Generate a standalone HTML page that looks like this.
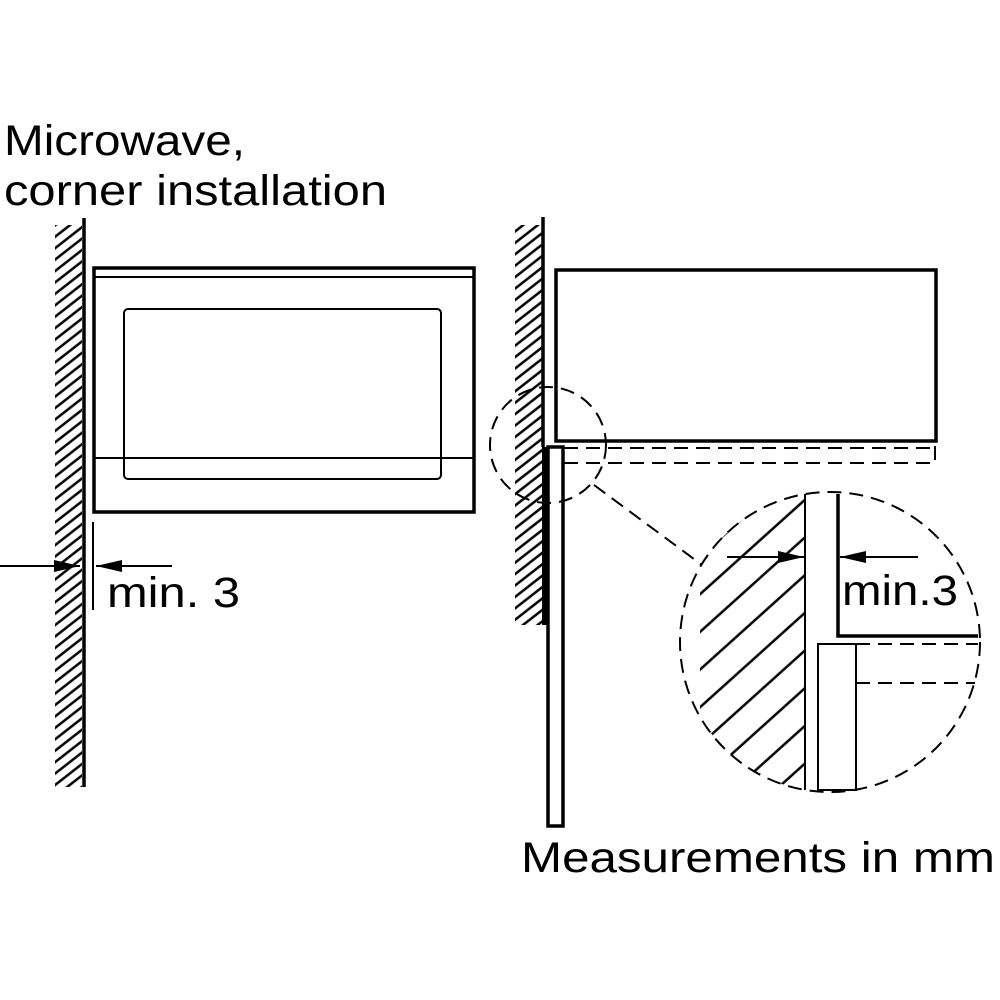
<!DOCTYPE html><html><head><style>body{margin:0;background:#fff}svg{display:block}</style></head><body>
<svg width="1000" height="1000" viewBox="0 0 1000 1000" xmlns="http://www.w3.org/2000/svg">
<defs>
<pattern id="h" patternUnits="userSpaceOnUse" width="20" height="9" patternTransform="rotate(-38)"><line x1="0" y1="4.5" x2="20" y2="4.5" stroke="#000" stroke-width="2.6"/></pattern>
<pattern id="h2" patternUnits="userSpaceOnUse" width="40" height="28" patternTransform="rotate(-42)"><line x1="0" y1="14" x2="40" y2="14" stroke="#000" stroke-width="2.4"/></pattern>
<clipPath id="bc"><circle cx="830" cy="642" r="150"/></clipPath>
<marker id="a" viewBox="0 0 26 12" refX="26" refY="6" markerWidth="26" markerHeight="12" markerUnits="userSpaceOnUse" orient="auto"><path d="M0,0L26,6L0,12z"/></marker>
</defs>
<g font-family="Liberation Sans, sans-serif" fill="#000" font-size="43">
<text x="4" y="155" textLength="241" lengthAdjust="spacingAndGlyphs">Microwave,</text>
<text x="4" y="205" textLength="383" lengthAdjust="spacingAndGlyphs">corner installation</text>
<text x="107" y="607" textLength="133" lengthAdjust="spacingAndGlyphs">min. 3</text>
<text x="842" y="605" textLength="116" lengthAdjust="spacingAndGlyphs">min.3</text>
<text x="521" y="872" textLength="474" lengthAdjust="spacingAndGlyphs">Measurements in mm</text>
</g>
<g stroke="#000" fill="none">
<rect x="55" y="225" width="27" height="562" fill="url(#h)" stroke="none"/>
<line x1="84" y1="218" x2="84" y2="787" stroke-width="3.5"/>
<rect x="94" y="268" width="380" height="244" stroke-width="3.5"/>
<line x1="95" y1="277" x2="473" y2="277" stroke-width="2"/>
<rect x="124" y="309" width="317" height="170" rx="4" stroke-width="2"/>
<line x1="95" y1="458" x2="473" y2="458" stroke-width="2"/>
<line x1="0" y1="566" x2="80" y2="566" stroke-width="2" marker-end="url(#a)"/>
<line x1="172" y1="566" x2="96" y2="566" stroke-width="2" marker-end="url(#a)"/>
<line x1="93" y1="522" x2="93" y2="610" stroke-width="2"/>
<rect x="515" y="225" width="27" height="400" fill="url(#h)" stroke="none"/>
<line x1="543" y1="217" x2="543" y2="447" stroke-width="3.5"/>
<rect x="542" y="447" width="5" height="178" fill="#000" stroke="none"/>
<rect x="556" y="270" width="380" height="171" stroke-width="3.5"/>
<rect x="548" y="447" width="15" height="379" stroke-width="3.5"/>
<g stroke-dasharray="14,8" stroke-width="2">
<line x1="564" y1="448" x2="936" y2="448"/>
<line x1="564" y1="463" x2="936" y2="463"/>
<line x1="935" y1="446" x2="935" y2="460"/>
<ellipse cx="548" cy="445" rx="58" ry="58"/>
<line x1="594" y1="485" x2="702" y2="565"/>
<circle cx="830" cy="642" r="150"/>
<line x1="856" y1="644" x2="978" y2="644"/>
<line x1="856" y1="683" x2="975" y2="683"/>
</g>
<g clip-path="url(#bc)"><rect x="700" y="494" width="104" height="300" fill="url(#h2)" stroke="none"/></g>
<line x1="805" y1="494" x2="805" y2="790" stroke-width="2"/>
<polyline points="838,494 838,636 978,636" stroke-width="3.5"/>
<rect x="818" y="644" width="38" height="146" stroke-width="2"/>
<line x1="727" y1="557" x2="804" y2="557" stroke-width="2" marker-end="url(#a)"/>
<line x1="918" y1="557" x2="840" y2="557" stroke-width="2" marker-end="url(#a)"/>
</g>
</svg></body></html>
